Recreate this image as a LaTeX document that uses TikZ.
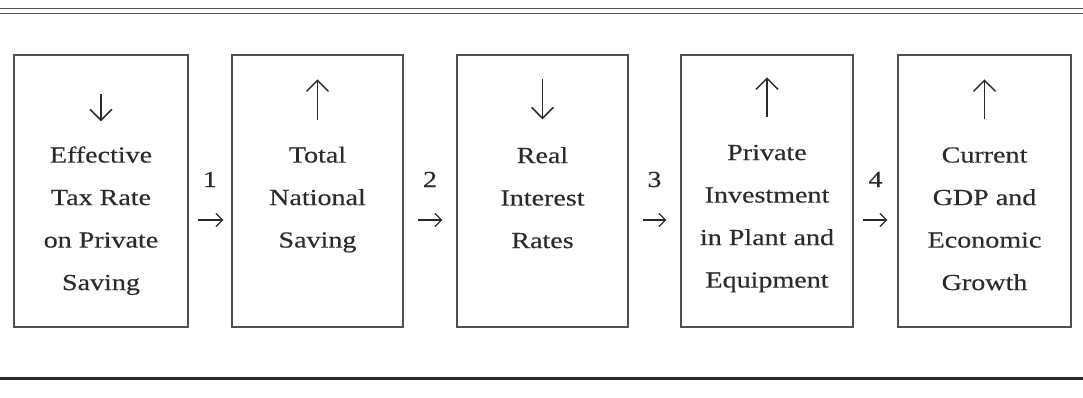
\documentclass[tikz,border=0pt]{standalone}
\usepackage{fontspec}
\setmainfont[FakeStretch=1.22,FakeBold=0.3]{Liberation Serif}
\usetikzlibrary{arrows.meta}
\definecolor{ink}{HTML}{2B2B2B}
\definecolor{frame}{HTML}{505050}
\definecolor{rulegray}{HTML}{555555}
\begin{document}
\begin{tikzpicture}[x=1pt,y=-1pt,
  box/.style={draw=frame, line width=1.3pt, minimum height=272pt, inner sep=0pt},
  lbl/.style={text=ink, font=\fontsize{23}{42.5}\selectfont, align=center, inner sep=0pt, anchor=north},
  num/.style={text=ink, font=\fontsize{23}{42.5}\selectfont, inner sep=0pt, anchor=base, midway, yshift=33pt},
  conn/.style={draw=ink, line width=1.3pt, -{Straight Barb[length=6.5pt,width=13pt]}},
  vmark/.style={draw=ink, line width=1.5pt, -{Straight Barb[length=11pt,width=22pt]}},
  rule/.style={draw=rulegray, line width=1.6pt}
]
\useasboundingbox (0,0) rectangle (1083,398);

% rules above and below the figure
\draw[rule] (0,8.5) -- (1083,8.5);
\draw[rule] (0,13.5) -- (1083,13.5);
\draw[rule, draw=ink, line width=2.4pt] (0,378.5) -- (1083,378.5);

% the five stages
\node[box, minimum width=174pt] (b1) at (101,191) {};
\node[box, minimum width=171pt] (b2) at (317.5,191) {};
\node[box, minimum width=171pt] (b3) at (542.5,191) {};
\node[box, minimum width=172pt] (b4) at (767,191) {};
\node[box, minimum width=173pt] (b5) at (984.5,191) {};

% direction of change in each stage
\draw[vmark] ([yshift=-40pt]b1.north) -- ++(0,27);
\draw[vmark] ([yshift=-66pt]b2.north) -- ++(0,-41);
\draw[vmark] ([yshift=-25pt]b3.north) -- ++(0,40);
\draw[vmark] ([yshift=-63pt]b4.north) -- ++(0,-40);
\draw[vmark] ([yshift=-65pt]b5.north) -- ++(0,-40);

% stage texts
\node[lbl] (t1) at ([yshift=-78.25pt]b1.north) {\strut Effective\\Tax Rate\\on Private\\Saving};
\node[lbl] (t2) at ([yshift=-78.25pt]b2.north) {\strut Total\\National\\Saving};
\node[lbl] (t3) at ([yshift=-78.75pt]b3.north) {\strut Real\\Interest\\Rates};
\node[lbl] (t4) at ([yshift=-75.75pt]b4.north) {\strut Private\\Investment\\in Plant and\\Equipment};
\node[lbl] (t5) at ([yshift=-78.25pt]b5.north) {\strut Current\\GDP and\\Economic\\Growth};

% numbered links
\draw[conn, shorten <=9pt, shorten >=8pt] ([yshift=-29pt]b1.east) -- ([yshift=-29pt]b2.west) node[num] (n1) {1};
\draw[conn, shorten <=14pt, shorten >=14pt] ([yshift=-29pt]b2.east) -- ([yshift=-29pt]b3.west) node[num] (n2) {2};
\draw[conn, shorten <=14pt, shorten >=14pt] ([yshift=-29pt]b3.east) -- ([yshift=-29pt]b4.west) node[num] (n3) {3};
\draw[conn, shorten <=9pt, shorten >=10pt] ([yshift=-29pt]b4.east) -- ([yshift=-29pt]b5.west) node[num] (n4) {4};
\end{tikzpicture}
\end{document}
